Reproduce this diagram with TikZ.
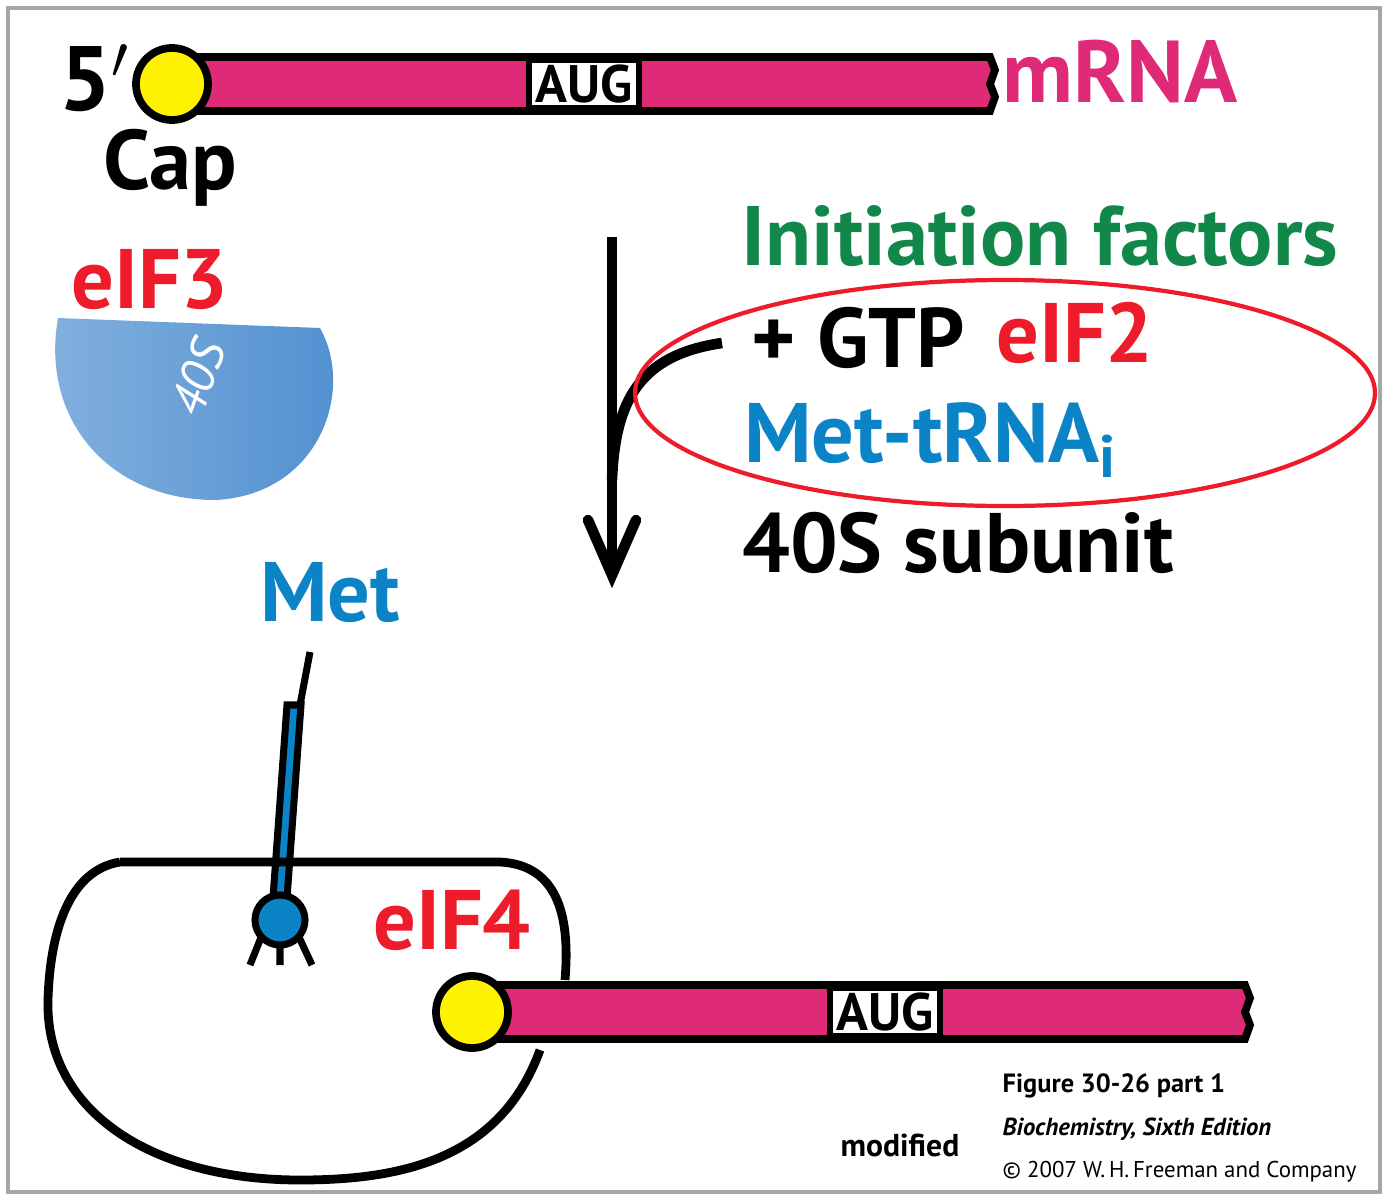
\documentclass[tikz,border=0pt]{standalone}
\usepackage{fontspec}
\setmainfont{PT Sans}
\definecolor{rnapink}{HTML}{DF2A78}
\definecolor{capyel}{HTML}{FFF200}
\definecolor{facgreen}{HTML}{12874A}
\definecolor{trnablue}{HTML}{0A84C6}
\definecolor{labred}{HTML}{EE1C2A}
\definecolor{subblue}{HTML}{4F8FD0}
\begin{document}
\begin{tikzpicture}[x=0.01cm, y=-0.01cm, font=\bfseries,
        strand/.style={draw=black, line width=2.2pt, fill=rnapink},
        capball/.style={draw=black, line width=2.2pt, fill=capyel, circle, inner sep=0pt, minimum size=0.72cm},
        codon/.style={draw=black, line width=1.5pt, fill=white, font=\bfseries\fontsize{15}{15}\selectfont, inner sep=0pt},
        big/.style={font=\bfseries\fontsize{24}{24}\selectfont}]
    \useasboundingbox (0,0) rectangle (1388,1200);
    \draw[gray!70, line width=1pt] (8,8) rectangle (1380,1192);
    % mRNA strands
    \foreach \x/\y/\len/\aug/\nm in {172/84/798/412/top, 472/1012/753/413/bot}{
        \draw[strand] (\x+20,\y-27) -- ++(\len,0) -- ++(5,13) -- ++(-5,14) -- ++(5,13) -- ++(-5,14)
            -- (\x+20,\y+27) -- cycle;
        \node[codon, minimum width=1.1cm, minimum height=0.47cm] (aug\nm) at (\x+\aug,\y) {AUG};
        \node[capball] (cap\nm) at (\x,\y) {};
    }
    \node[font=\bfseries\fontsize{26}{26}\selectfont] (five) at (95,78) {5$'$};
    \node[big] (caplab) at (170,168) {Cap};
    \node[rnapink, font=\bfseries\fontsize{25}{25}\selectfont] (mrna) at (1120,72) {mRNA};
    % 40S subunit with eIF3
    \node[labred, big] (eif3) at (150,280) {eIF3};
    \shade[left color=subblue!70, right color=subblue] (58,318) -- (320,328)
        .. controls (355,390) and (320,495) .. (215,500)
        .. controls (110,500) and (40,420) .. cycle;
    \node[white, rotate=70, font=\itshape\fontsize{14}{14}\selectfont] (sub) at (198,378) {40S};
    % reaction arrow
    \coordinate (arrtop) at (612,237);
    \coordinate (arrbot) at (612,575);
    \coordinate (join) at (722,343);
    \draw[line width=3pt] (arrtop) -- (arrbot);
    \draw[line width=3pt, line cap=round] (588,520) -- (arrbot) -- (636,520);
    \draw[line width=3pt] (join) .. controls (640,355) and (615,400) .. (612,480);
    \node[facgreen, big] (fact) at (1040,236) {Initiation factors};
    \node[big] (gtp) at (858,338) {+ GTP};
    \node[labred, big] (eif2) at (1075,333) {eIF2};
    \node[trnablue, big] (met) at (930,440) {Met-tRNA\raisebox{-0.35ex}{\fontsize{17}{17}\selectfont i}};
    \node[big] (sub40) at (958,543) {40S subunit};
    \draw[labred, line width=1.2pt] (1005,393) ellipse[x radius=370, y radius=113];
    % initiator tRNA
    \node[trnablue, big] (metaa) at (330,593) {Met};
    \draw[line width=2pt] (310,652) -- (300,705);
    \draw[line width=2pt, fill=trnablue] (287,705) -- (301,705) -- (287,898) -- (273,898) -- cycle;
    \draw[line width=2pt] (262,935) -- (250,965) (280,940) -- (280,965) (298,935) -- (312,965);
    \node[draw=black, line width=2pt, fill=trnablue, circle, inner sep=0pt, minimum size=0.5cm] (anti) at (280,920) {};
    % ribosome outline
    \draw[line width=2.5pt] (120,862) -- (500,862) .. controls (560,865) and (570,920) .. (565,980)
        (540,1050) .. controls (500,1160) and (400,1180) .. (300,1180)
        .. controls (150,1180) and (45,1110) .. (48,1000)
        .. controls (50,930) and (70,870) .. (120,862);
    \node[labred, big] (eif4) at (452,920) {eIF4};
    % credits
    \node (mod) at (900,1145) {\fontsize{9}{9}\selectfont modified};
    \node[align=left, anchor=west, inner sep=0pt] (fig) at (1002,1128)
        {\fontsize{7.5}{10}\selectfont Figure 30-26 part 1\\
         \fontsize{7}{9}\selectfont\itshape Biochemistry, Sixth Edition\\
         \fontsize{6.5}{9}\selectfont\mdseries\textcopyright\ 2007 W.\,H.\,Freeman and Company};
\end{tikzpicture}
\end{document}
